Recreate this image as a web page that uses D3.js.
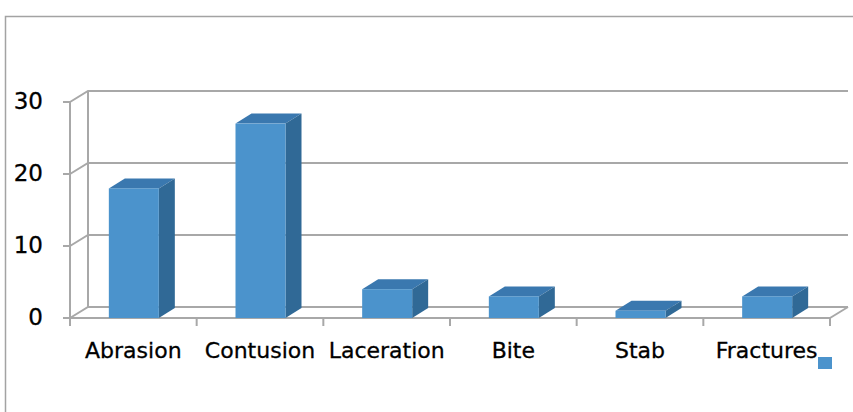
<!DOCTYPE html>
<html><head><meta charset="utf-8">
<script src="https://cdn.jsdelivr.net/npm/d3@7"></script>
<style>body{margin:0;background:#fff}svg{display:block}</style>
</head><body>
<script>
const categories = ["Abrasion","Contusion","Laceration","Bite","Stab","Fractures"];
const values = [18, 27, 4, 3, 1, 3];
const yTicks = [0, 10, 20, 30];

const W = 853, H = 412;
const svg = d3.select("body").append("svg").attr("width", W).attr("height", H);

// frame
svg.append("path").attr("d", `M5.5,${H+2}V16.5H${W+2}`).attr("fill","none").attr("stroke","#a3a3a3").attr("stroke-width",1.5);

const x = d3.scaleBand().domain(categories).range([70, 830]);
const y = d3.scaleLinear().domain([0, 30]).range([318, 102]);
const wdx = 18, wdy = -11;   // wall depth
const bdx = 16, bdy = -10;   // bar depth
const gridC = "#a8a8a8";

const g = svg.append("g");
yTicks.forEach(t => {
  const yy = y(t);
  g.append("path").attr("d", `M${x.range()[0]},${yy}L${x.range()[0]+wdx},${yy+wdy}H${x.range()[1]+wdx}`)
    .attr("fill","none").attr("stroke",gridC).attr("stroke-width",2);
});
g.append("line").attr("x1",70+wdx).attr("x2",70+wdx).attr("y1",y(30)+wdy).attr("y2",y(0)+wdy)
  .attr("stroke",gridC).attr("stroke-width",2);
g.append("line").attr("x1",x.range()[1]).attr("y1",y(0)).attr("x2",x.range()[1]+wdx).attr("y2",y(0)+wdy)
  .attr("stroke",gridC).attr("stroke-width",2);
g.append("line").attr("x1",70).attr("x2",70).attr("y1",y(30)).attr("y2",y(0)).attr("stroke",gridC).attr("stroke-width",2);
yTicks.forEach(t => {
  g.append("line").attr("x1",63).attr("x2",70).attr("y1",y(t)).attr("y2",y(t)).attr("stroke",gridC).attr("stroke-width",2);
});
g.append("line").attr("x1",70).attr("x2",830).attr("y1",y(0)).attr("y2",y(0)).attr("stroke",gridC).attr("stroke-width",2);
const bounds = categories.map(c => x(c)).concat([x.range()[1]]);
bounds.forEach(b => {
  g.append("line").attr("x1",b).attr("x2",b).attr("y1",y(0)).attr("y2",y(0)+8).attr("stroke",gridC).attr("stroke-width",2);
});

svg.selectAll(".yl").data(yTicks).join("text")
  .attr("x", 43).attr("y", d => y(d) + 7)
  .attr("text-anchor","end").attr("font-family","DejaVu Sans").attr("font-size",23).attr("fill","#000")
  .attr("stroke","#000").attr("stroke-width",0.3)
  .text(d => d);

const bw = 50;
const bars = svg.selectAll(".bar").data(categories.map((c,i)=>({c, v: values[i]}))).join("g");
bars.each(function(d){
  const sel = d3.select(this);
  const x0 = x(d.c) + x.bandwidth()/2 - bw/2 + 0.5, x1 = x0 + bw;
  const yt = y(d.v), yb = y(0);
  sel.append("path").attr("d",`M${x0},${yt}L${x0+bdx},${yt+bdy}H${x1+bdx}L${x1},${yt}Z`).attr("fill","#3a78af");
  sel.append("path").attr("d",`M${x1},${yt}L${x1+bdx},${yt+bdy}V${yb+bdy}L${x1},${yb}Z`).attr("fill","#306996");
  sel.append("rect").attr("x",x0).attr("y",yt).attr("width",bw).attr("height",yb-yt).attr("fill","#4b93cc");
});

svg.selectAll(".xl").data(categories).join("text")
  .attr("x", d => x(d) + x.bandwidth()/2).attr("y", 358)
  .attr("text-anchor","middle").attr("font-family","DejaVu Sans").attr("font-size",22).attr("fill","#000")
  .attr("stroke","#000").attr("stroke-width",0.3)
  .text(d => d);

svg.append("rect").attr("x",818).attr("y",357).attr("width",14).attr("height",12).attr("fill","#4b93cc");
</script>
</body></html>
